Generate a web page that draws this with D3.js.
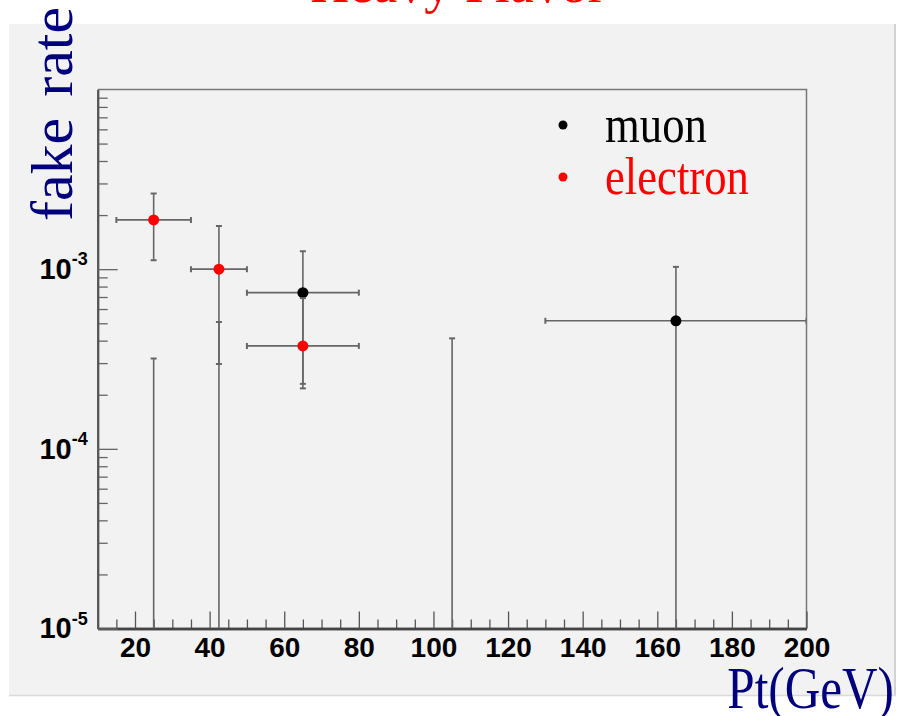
<!DOCTYPE html>
<html>
<head>
<meta charset="utf-8">
<script src="https://cdn.jsdelivr.net/npm/d3@7"></script>
<style>
  html, body { margin: 0; padding: 0; background: #fff; }
  svg { display: block; }
</style>
</head>
<body>
<div id="chart"></div>
<script>
const muonX = [25, 42.5, 65, 105, 165]
const muonXLo = [15, 35, 50, 80, 130]
const muonXHi = [35, 50, 80, 130, 200]
const muonY = [0, 0, 7.4e-4, 0, 5.16e-4]
const muonYHi = [3.18e-4, 5.08e-4, 1.26e-3, 4.12e-4, 1.03e-3]
const muonYLo = [0, 0, 2.3e-4, 0, 0]

const elecX = [25, 42.5, 65]
const elecXLo = [15, 35, 50]
const elecXHi = [35, 50, 80]
const elecY = [1.88e-3, 1.0e-3, 3.74e-4]
const elecYHi = [2.64e-3, 1.74e-3, 6.9e-4]
const elecYLo = [1.12e-3, 2.97e-4, 2.17e-4]

const xMajor = [20, 40, 60, 80, 100, 120, 140, 160, 180, 200]
const xMinor = d3.range(15, 200, 5).filter(v => v % 20 !== 0)
const yMajor = [1e-5, 1e-4, 1e-3]
const yMinor = [1e-5, 1e-4, 1e-3].flatMap(d => d3.range(2, 10).map(k => k * d))

const legend = [{ name: 'muon', color: '#000' }, { name: 'electron', color: '#f00' }]

const width = 899, height = 716
const plotL = 97.7, plotR = 806.5, plotT = 89.5, plotB = 628.5
const navy = '#00007d'

const x = d3.scaleLinear().domain([10, 200]).range([plotL, plotR])
const y = d3.scaleLog().domain([1e-5, 1e-2]).range([plotB, plotT])
const ymin = y.domain()[0]

const svg = d3.select('#chart').append('svg').attr('width', width).attr('height', height)

svg.append('rect').attr('x', 9).attr('y', 24).attr('width', 885).attr('height', 671).attr('fill', '#f2f2f2')
svg.append('line').attr('x1', 895).attr('x2', 895).attr('y1', 24).attr('y2', 696).attr('stroke', '#d2d2d2').attr('stroke-width', 2)
svg.append('line').attr('x1', 9).attr('x2', 896).attr('y1', 695.5).attr('y2', 695.5).attr('stroke', '#dadada').attr('stroke-width', 1.5)

svg.append('text').attr('x', 458).attr('y', 2).attr('text-anchor', 'middle').
    attr('font-family', 'Liberation Serif').attr('font-size', 54).attr('fill', '#f00').text('Heavy Flavor')

// plot frame
svg.append('path').attr('d', `M${plotL},${plotT}H${plotR}V${plotB}`).attr('fill', 'none').attr('stroke', '#777').attr('stroke-width', 1.5)

svg.append('clipPath').attr('id', 'plot').append('rect').
    attr('x', plotL).attr('y', plotT).attr('width', plotR - plotL).attr('height', plotB - plotT)

// axes
const gx = svg.append('g').attr('transform', `translate(0,${plotB})`)
gx.append('g').call(d3.axisBottom(x).tickValues(xMinor).tickSizeInner(-9).tickSizeOuter(0).tickFormat(''))
const gxMajor = gx.append('g').call(d3.axisBottom(x).tickValues(xMajor).tickSizeInner(-17).tickSizeOuter(0).tickPadding(9))
gx.selectAll('.domain').attr('stroke', '#444').attr('stroke-width', 2.5)
gx.selectAll('.tick line').attr('stroke', '#555').attr('stroke-width', 1.3)
gxMajor.selectAll('text').attr('font-family', 'Liberation Sans').attr('font-weight', 'bold').
    attr('font-size', 28).attr('fill', '#000')

const gy = svg.append('g').attr('transform', `translate(${plotL},0)`)
gy.append('g').call(d3.axisLeft(y).tickValues(yMinor).tickSizeInner(-10).tickSizeOuter(0).tickFormat(''))
const gyMajor = gy.append('g').call(d3.axisLeft(y).tickValues(yMajor).tickSizeInner(-20).tickSizeOuter(0).tickPadding(10))
gy.selectAll('.domain').attr('stroke', '#555').attr('stroke-width', 2)
gy.selectAll('.tick line').attr('stroke', '#666').attr('stroke-width', 1.3)
gyMajor.selectAll('text').
    attr('font-family', 'Liberation Sans').attr('font-weight', 'bold').attr('font-size', 29).attr('fill', '#000').
    each(function (d) {
        const t = d3.select(this).text('')
        t.append('tspan').text('10')
        t.append('tspan').attr('font-size', 18).attr('dy', '-0.75em').text(Math.round(Math.log10(d)))
    })

svg.append('text').attr('transform', 'translate(72,114) rotate(-90)').attr('text-anchor', 'middle').
    attr('font-family', 'Liberation Serif').attr('font-size', 60).attr('fill', navy).
    attr('word-spacing', 6).text('fake rate')
svg.append('text').attr('transform', 'translate(894,708) scale(0.82,1)').attr('text-anchor', 'end').
    attr('font-family', 'Liberation Serif').attr('font-size', 60).attr('fill', navy).text('Pt(GeV)')

// data
const plot = svg.append('g').attr('clip-path', 'url(#plot)')

function drawSeries (xs, xlo, xhi, ys, ylo, yhi, color) {
    xs.forEach((xv, i) => {
        const g = plot.append('g').attr('stroke', '#666').attr('stroke-width', 1.6)
        const px = x(xv)
        const yBot = ylo[i] > ymin ? y(ylo[i]) : y(ymin)
        g.append('line').attr('x1', px).attr('x2', px).attr('y1', y(yhi[i])).attr('y2', yBot)
        g.append('line').attr('x1', px - 3).attr('x2', px + 3).attr('y1', y(yhi[i])).attr('y2', y(yhi[i])).attr('stroke-width', 2)
        if (ylo[i] > ymin) {
            g.append('line').attr('x1', px - 3).attr('x2', px + 3).attr('y1', yBot).attr('y2', yBot).attr('stroke-width', 2)
        }
        if (ys[i] > ymin) {
            const py = y(ys[i])
            g.append('line').attr('x1', x(xlo[i])).attr('x2', x(xhi[i])).attr('y1', py).attr('y2', py)
            g.append('line').attr('x1', x(xlo[i])).attr('x2', x(xlo[i])).attr('y1', py - 3).attr('y2', py + 3).attr('stroke-width', 2)
            g.append('line').attr('x1', x(xhi[i])).attr('x2', x(xhi[i])).attr('y1', py - 3).attr('y2', py + 3).attr('stroke-width', 2)
        }
    })
    xs.forEach((xv, i) => {
        if (ys[i] > ymin) {
            plot.append('circle').attr('cx', x(xv)).attr('cy', y(ys[i])).attr('r', 5.5).attr('fill', color)
        }
    })
}

drawSeries(muonX, muonXLo, muonXHi, muonY, muonYLo, muonYHi, '#000')
drawSeries(elecX, elecXLo, elecXHi, elecY, elecYLo, elecYHi, '#f00')

// legend
const lg = svg.selectAll('.legend').data(legend).enter().append('g').
    attr('transform', (d, i) => `translate(563,${125 + i * 52})`)
lg.append('circle').attr('r', 4.5).attr('fill', d => d.color)
lg.append('text').attr('transform', 'translate(42,17) scale(0.86,1)').
    attr('font-family', 'Liberation Serif').attr('font-size', 52).attr('fill', d => d.color).text(d => d.name)
</script>
</body>
</html>
